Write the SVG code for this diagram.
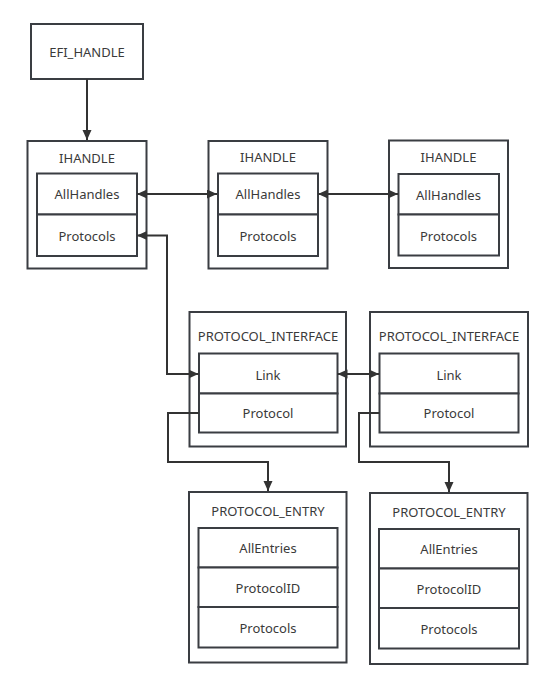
<svg xmlns="http://www.w3.org/2000/svg" width="552" height="689" viewBox="0 0 552 689">
<defs>
<marker id="ah" markerUnits="userSpaceOnUse" markerWidth="12" markerHeight="10" refX="10" refY="4.5" orient="auto-start-reverse">
<path d="M0,0 L10,4.5 L0,9 Z" fill="#333"/>
</marker>
</defs>
<style>
.box{fill:#fff;stroke:#3a3d42;stroke-width:2}
.cell{fill:#fff;stroke:#3a3d42;stroke-width:2}
.t{font-family:"Noto Sans","Open Sans",sans-serif;font-size:13px;fill:#3a3a3a;text-anchor:middle;dominant-baseline:central}
.c{fill:none;stroke:#333;stroke-width:2}
</style>
<rect width="552" height="689" fill="#fff"/>
<g id="efi_handle">
<rect class="box" x="31" y="24" width="112" height="55"/>
<text class="t" x="87" y="52">EFI_HANDLE</text>
</g>
<g id="ihandle1">
<rect class="box" x="27.5" y="141" width="119" height="127.5"/>
<text class="t" x="87" y="158">IHANDLE</text>
<rect class="cell" x="37" y="173.5" width="100" height="41"/>
<rect class="cell" x="37" y="214.5" width="100" height="41.5"/>
<text class="t" x="87" y="194">AllHandles</text>
<text class="t" x="87" y="236">Protocols</text>
</g>
<g id="ihandle2">
<rect class="box" x="208.5" y="141" width="119" height="127.5"/>
<text class="t" x="268" y="157">IHANDLE</text>
<rect class="cell" x="218" y="173.5" width="100" height="41"/>
<rect class="cell" x="218" y="214.5" width="100" height="41.5"/>
<text class="t" x="268" y="194">AllHandles</text>
<text class="t" x="268" y="236">Protocols</text>
</g>
<g id="ihandle3">
<rect class="box" x="389" y="140.5" width="119" height="127.5"/>
<text class="t" x="448.5" y="157">IHANDLE</text>
<rect class="cell" x="398.5" y="174" width="100.5" height="40.5"/>
<rect class="cell" x="398.5" y="214.5" width="100.5" height="41"/>
<text class="t" x="448.5" y="195">AllHandles</text>
<text class="t" x="448.5" y="236">Protocols</text>
</g>
<g id="protocol_interface1">
<rect class="box" x="189.5" y="312" width="156.5" height="134.5"/>
<text class="t" x="268" y="336">PROTOCOL_INTERFACE</text>
<rect class="cell" x="199" y="353.5" width="138.5" height="40"/>
<rect class="cell" x="199" y="393.5" width="138.5" height="39"/>
<text class="t" x="268" y="375">Link</text>
<text class="t" x="268" y="413">Protocol</text>
</g>
<g id="protocol_interface2">
<rect class="box" x="370" y="312" width="158" height="134.5"/>
<text class="t" x="449" y="336">PROTOCOL_INTERFACE</text>
<rect class="cell" x="379.5" y="353.5" width="139" height="40"/>
<rect class="cell" x="379.5" y="393.5" width="139" height="39"/>
<text class="t" x="449" y="375">Link</text>
<text class="t" x="449" y="413">Protocol</text>
</g>
<g id="protocol_entry1">
<rect class="box" x="189" y="492" width="157.5" height="170.5"/>
<text class="t" x="268" y="511">PROTOCOL_ENTRY</text>
<rect class="cell" x="198.5" y="528" width="139" height="39.5"/>
<rect class="cell" x="198.5" y="567.5" width="139" height="39.5"/>
<rect class="cell" x="198.5" y="607" width="139" height="40.5"/>
<text class="t" x="268" y="548">AllEntries</text>
<text class="t" x="268" y="588">ProtocolID</text>
<text class="t" x="268" y="628">Protocols</text>
</g>
<g id="protocol_entry2">
<rect class="box" x="370" y="493" width="157.5" height="171"/>
<text class="t" x="449" y="512">PROTOCOL_ENTRY</text>
<rect class="cell" x="379" y="529" width="140" height="39.5"/>
<rect class="cell" x="379" y="568.5" width="140" height="39.5"/>
<rect class="cell" x="379" y="608" width="140" height="40.5"/>
<text class="t" x="449" y="549">AllEntries</text>
<text class="t" x="449" y="589">ProtocolID</text>
<text class="t" x="449" y="629">Protocols</text>
</g>
<g id="connectors">
<path class="c" d="M87,79 V140" marker-end="url(#ah)"/>
<path class="c" d="M137,194 H217" marker-start="url(#ah)" marker-end="url(#ah)"/>
<path class="c" d="M318,194 H398" marker-start="url(#ah)" marker-end="url(#ah)"/>
<path class="c" d="M137,235.5 H167 V374 H198.5" marker-start="url(#ah)" marker-end="url(#ah)"/>
<path class="c" d="M337.5,374 H379" marker-start="url(#ah)" marker-end="url(#ah)"/>
<path class="c" d="M199,413 H168 V462 H268 V491" marker-end="url(#ah)"/>
<path class="c" d="M379.5,413 H359 V462 H449 V492" marker-end="url(#ah)"/>
</g>
</svg>
